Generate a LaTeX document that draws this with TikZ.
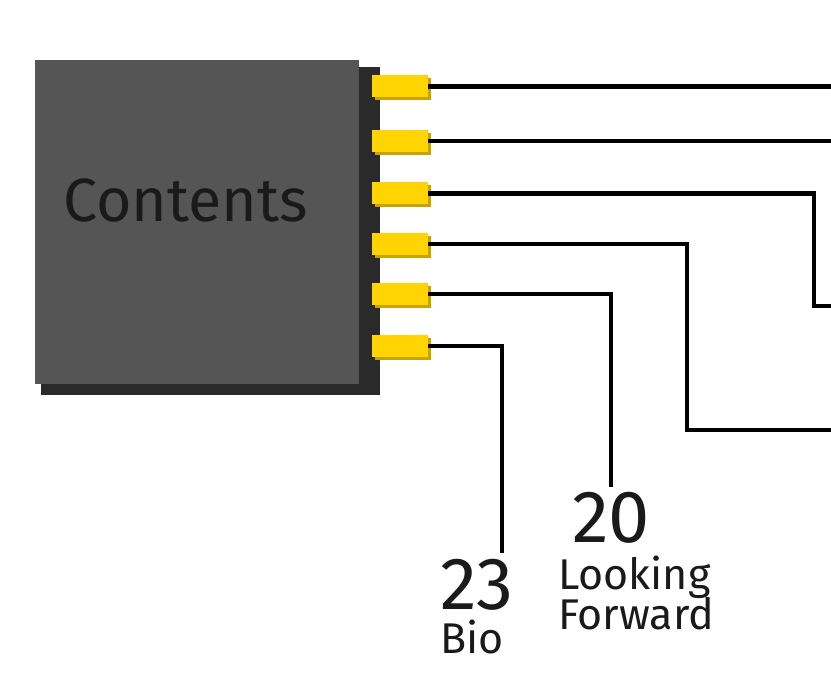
\documentclass[tikz,border=0pt]{standalone}
\usepackage{fontspec}
\setmainfont{Fira Sans}
\usetikzlibrary{shadows}
\definecolor{chiptop}{HTML}{555555}
\definecolor{chipbase}{HTML}{2A2A2A}
\definecolor{pinyellow}{HTML}{FFD400}
\definecolor{pinshade}{HTML}{C9A300}
\definecolor{ink}{HTML}{1A1A1A}
\tikzset{body/.style={rectangle,inner sep=0pt,fill=chipbase}}
\tikzset{top/.style={rectangle,inner sep=0pt,fill=chiptop,minimum size=324pt}}
\tikzset{pin/.style={rectangle,inner sep=0pt,fill=pinyellow,minimum width=56pt,minimum height=22pt,
  drop shadow={shadow xshift=3pt,shadow yshift=-3pt,fill=pinshade,opacity=1}}}
\tikzset{wire/.style={line width=4.4pt,black}}
\tikzset{bignum/.style={inner sep=0pt,text=ink,font=\fontsize{74}{74}\selectfont}}
\tikzset{caption/.style={inner sep=0pt,text=ink,font=\fontsize{43}{43}\selectfont}}
\begin{document}
\begin{tikzpicture}[x=1pt,y=-1pt]
\useasboundingbox (0,0) rectangle (831,700);
\node (base) at (210.5,231)[body,minimum width=339pt,minimum height=328pt]{};
\node (top) at (197,222)[top]{};
\node (title) at (63,222)[anchor=base west,inner sep=0pt,text=ink,font=\fontsize{61}{61}\selectfont]{Contents};

\node (pin1) at (400,86.5)[pin]{};
\node (pin2) at (400,141)[pin]{};
\node (pin3) at (400,193.5)[pin]{};
\node (pin4) at (400,244)[pin]{};
\node (pin5) at (400,294)[pin]{};
\node (pin6) at (400,346)[pin]{};

% free ends of the wires
\coordinate (end1) at (833,86.5);
\coordinate (end2) at (833,141);
\coordinate (end3) at (833,306);
\coordinate (end4) at (833,430);
\coordinate (end5) at (611,487);
\coordinate (end6) at (502,553);

\draw[wire] (pin1.east) -- (end1);
\draw[wire] (pin2.east) -- (end2);
\draw[wire] (pin3.east) -| (814,306) -- (end3);
\draw[wire] (pin4.east) -| (687,430) -- (end4);
\draw[wire] (pin5.east) -| (end5);
\draw[wire] (pin6.east) -| (end6);

\node (num20) at (572,543)[bignum,anchor=base west]{20};
\node (looking) at (558,590)[caption,anchor=base west]{Looking};
\node (forward) at (558,630)[caption,anchor=base west]{Forward};
\node (num23) at (440,610)[bignum,anchor=base west]{23};
\node (bio) at (440,654)[caption,anchor=base west]{Bio};
\end{tikzpicture}
\end{document}
